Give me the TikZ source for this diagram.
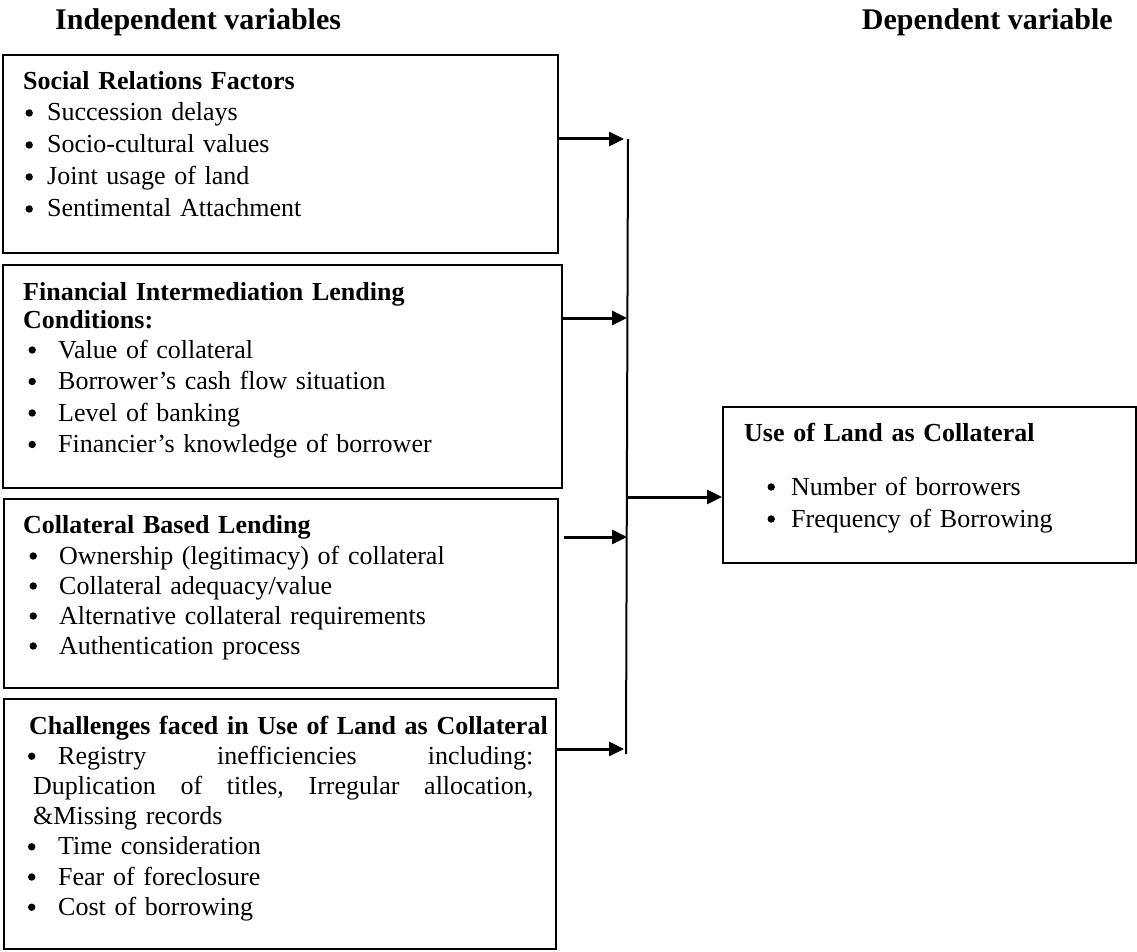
\documentclass[tikz,border=0pt]{standalone}
\usepackage{fontspec}
\setmainfont{Liberation Serif}
\usetikzlibrary{arrows.meta}
% bullet: shift, dot, then room up to the text
\newcommand{\bul}[2]{\hspace*{\dimexpr#1pt+0.8pt\relax}\makebox[\dimexpr#2pt-0.8pt\relax][l]{\tikz[baseline=0pt]\fill (3.7pt,8pt) circle (3.7pt);}}

\begin{document}
\begin{tikzpicture}[x=1pt, y=-1pt,
        box/.style={draw, line width=1.6pt, inner sep=0pt, anchor=north west},
        txt/.style={anchor=base west, align=left, text width=520pt, inner sep=0pt,
            font=\fontsize{26}{#1}\selectfont},
        txt/.default=32,
        head/.style={anchor=base west, inner sep=0pt, font=\fontsize{30}{36}\selectfont\bfseries},
        arr/.style={line width=3pt, -{Triangle[length=15pt,width=14pt]}},
        spine/.style={line width=2pt},
    ]
    \useasboundingbox (0,0) rectangle (1137,952);

    \node[head] (indep) at (55,30) {Independent variables};
    \node[head, anchor=base east] (dept) at (1113,30) {Dependent variable};

    % boxes
    \node[box, minimum width=555pt, minimum height=198pt] (social) at (2,54) {};
    \node[box, minimum width=559pt, minimum height=223pt] (finance) at (2,264) {};
    \node[box, minimum width=554pt, minimum height=189pt] (collat) at (3,498) {};
    \node[box, minimum width=552pt, minimum height=250pt] (chall) at (3,698) {};
    \node[box, minimum width=413pt, minimum height=156pt] (dep) at (722,406) {};

    \node[txt] (socialtxt) at (23,90) {\textbf{Social Relations Factors}\\[-1pt]
        \bul{1.5}{22.5}Succession delays\\
        \bul{1.5}{22.5}Socio-cultural values\\
        \bul{1.5}{22.5}Joint usage of land\\
        \bul{1.5}{22.5}Sentimental Attachment};

    \node[txt=31.5] (financetxt) at (23,300) {\textbf{Financial Intermediation Lending}\\[-3.5pt]
        \textbf{Conditions:}\\[-1.5pt]
        \bul{4.5}{30.5}Value of collateral\\
        \bul{4.5}{30.5}Borrower’s cash flow situation\\
        \bul{4.5}{30.5}Level of banking\\
        \bul{4.5}{30.5}Financier’s knowledge of borrower};

    \node[txt=30] (collattxt) at (23,533) {\textbf{Collateral Based Lending}\\[1pt]
        \bul{5.5}{30.5}Ownership (legitimacy) of collateral\\
        \bul{5.5}{30.5}Collateral adequacy/value\\
        \bul{5.5}{30.5}Alternative collateral requirements\\
        \bul{5.5}{30.5}Authentication process};

    \node[txt=30.2, text width=500pt] (challtxt) at (33,734) {\makebox[500pt][l]{\hspace*{-4pt}\textbf{Challenges faced in Use of Land as Collateral}}\\
        \makebox[500pt][l]{\bul{-6}{31}Registry\hfill inefficiencies\hfill including:}\\
        \makebox[500pt][l]{Duplication\hfill of\hfill titles,\hfill Irregular\hfill allocation,}\\
        \&Missing records\\
        \bul{-6}{31}Time consideration\\
        \bul{-6}{31}Fear of foreclosure\\
        \bul{-6}{31}Cost of borrowing};

    \node[txt, text width=380pt] (deptxt) at (744,441) {\textbf{Use of Land as Collateral}\\[22pt]
        \bul{22.5}{24.5}Number of borrowers\\
        \bul{22.5}{24.5}Frequency of Borrowing};

    % connectors
    \coordinate (j1) at (628,139);
    \coordinate (j2) at (628,318);
    \coordinate (j3) at (628,537);
    \coordinate (j4) at (628,749);
    \coordinate (j5) at (628,497);
    \coordinate (jend) at (626,754);
    \draw[spine] (j1) -- (jend);

    \draw[arr] (social.east |- j1) -- ([xshift=-4pt]j1);
    \draw[arr] (finance.east |- j2) -- ([xshift=-1pt]j2);
    \draw[arr] ([xshift=5pt]collat.east |- j3) -- ([xshift=-1pt]j3);
    \draw[arr] (chall.east |- j4) -- ([xshift=-4pt]j4);
    \draw[arr] (j5) -- (dep.west |- j5);
\end{tikzpicture}
\end{document}
